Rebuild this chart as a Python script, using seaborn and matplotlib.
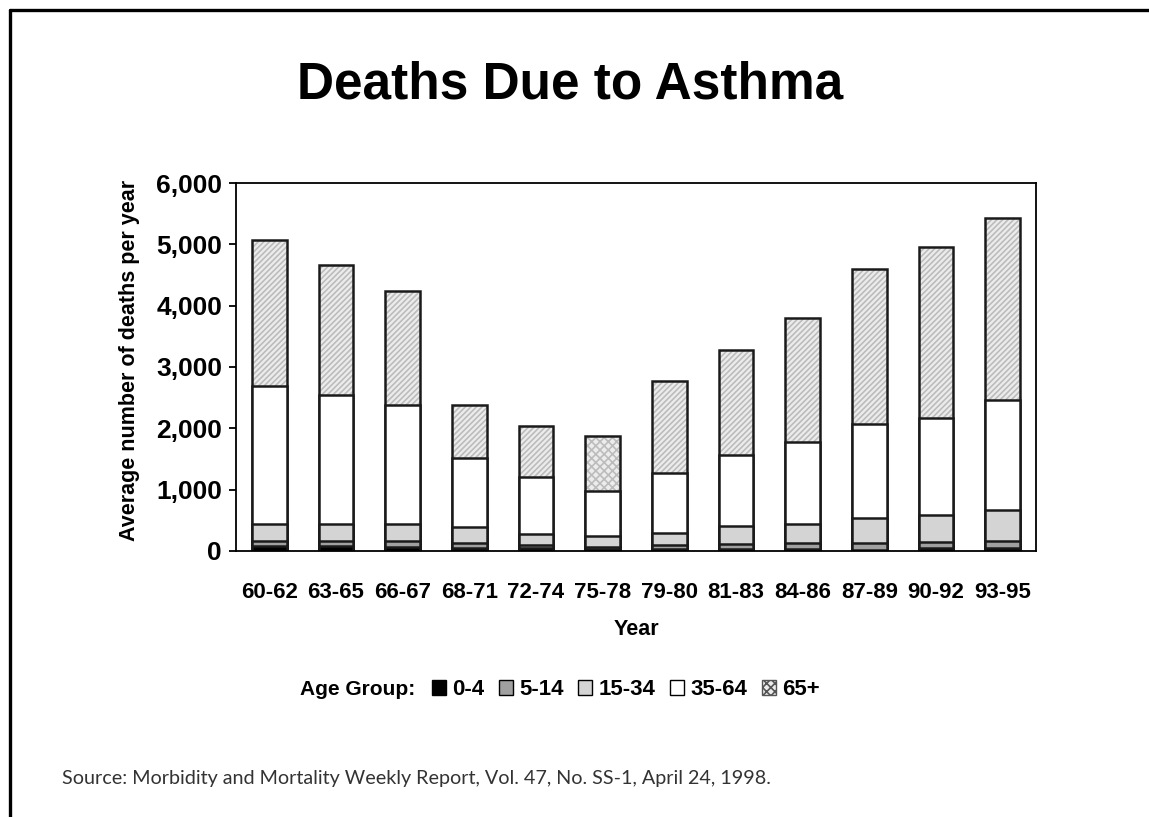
import matplotlib
matplotlib.use("Agg")
import matplotlib.pyplot as plt
from matplotlib.patches import Patch
from matplotlib.lines import Line2D
from matplotlib.ticker import FuncFormatter
import numpy as np
import pandas as pd
import seaborn as sns

# === data ===
YEARS = ["60-62", "63-65", "66-67", "68-71", "72-74", "75-78",
         "79-80", "81-83", "84-86", "87-89", "90-92", "93-95"]
AGE_GROUPS = ["0-4", "5-14", "15-34", "35-64", "65+"]
# deaths per year, by age group
AGE_0_4 = [85, 85, 70, 45, 55, 30, 30, 25, 25, 20, 45, 45]
AGE_5_14 = [80, 80, 95, 80, 35, 30, 70, 85, 100, 110, 105, 125]
AGE_15_34 = [275, 275, 275, 260, 190, 180, 200, 305, 320, 400, 430, 495]
AGE_35_64 = [2250, 2110, 1940, 1125, 930, 735, 975, 1155, 1325, 1540, 1590, 1800]
AGE_65_UP = [2380, 2110, 1860, 870, 830, 905, 1495, 1700, 2030, 2530, 2790, 2965]

COLORS = ["black", "#a0a0a0", "#d4d4d4", "white", "#ececec"]
HATCH_COLOR = "#bcbcbc"

# cumulative heights, each layer is drawn as a full bar from zero
df = pd.DataFrame({"year": YEARS, "0-4": AGE_0_4, "5-14": AGE_5_14,
                   "15-34": AGE_15_34, "35-64": AGE_35_64, "65+": AGE_65_UP})
cum = df[AGE_GROUPS].cumsum(axis=1)
cum["year"] = YEARS

sns.set_style("white")
plt.rcParams["font.family"] = ["Liberation Sans", "DejaVu Sans"]
plt.rcParams["hatch.linewidth"] = 1.2
plt.rcParams["text.color"] = "black"
plt.rcParams["xtick.color"] = "black"
plt.rcParams["ytick.color"] = "black"
plt.rcParams["axes.labelcolor"] = "black"

fig = plt.figure(figsize=(11.49, 8.17), dpi=100)
ax = fig.add_axes([0.2054, 0.3256, 0.6963, 0.4504])

BAR_W = 0.52

# top layer (65+) first: hatched fill with gray hatch lines
sns.barplot(data=cum, x="year", y="65+", order=YEARS, color=COLORS[4],
            width=BAR_W, edgecolor=HATCH_COLOR, linewidth=0, ax=ax,
            saturation=1)
for i, p in enumerate(ax.patches):
    p.set_hatch("xxxx" if YEARS[i] == "75-78" else "//////")
# outline of the full bar
sns.barplot(data=cum, x="year", y="65+", order=YEARS, fill=False,
            width=BAR_W, edgecolor="#1a1a1a", linewidth=1.8, ax=ax)

# remaining layers from top down
for group, col in zip(["35-64", "15-34", "5-14", "0-4"],
                      [COLORS[3], COLORS[2], COLORS[1], COLORS[0]]):
    sns.barplot(data=cum, x="year", y=group, order=YEARS, color=col,
                width=BAR_W, edgecolor="#1a1a1a", linewidth=1.8, ax=ax,
                saturation=1)

ax.set_xlim(-0.5, len(YEARS) - 0.5)
ax.set_ylim(0, 6000)
ax.set_yticks(np.arange(0, 6001, 1000))
ax.yaxis.set_major_formatter(FuncFormatter(lambda v, _: f"{int(v):,}"))
for s in ax.spines.values():
    s.set_visible(True)
    s.set_color("black")
    s.set_linewidth(1.3)
ax.tick_params(axis="y", which="major", left=True, length=5, width=1.3,
               direction="out", pad=5, labelsize=19)
ax.tick_params(axis="x", bottom=False, pad=19, labelsize=16)
for lab in ax.get_xticklabels() + ax.get_yticklabels():
    lab.set_fontweight("bold")
ax.set_xlabel("")
ax.set_ylabel("Average number of deaths per year", fontsize=15.5,
              fontweight="bold")
ax.yaxis.set_label_coords(-0.12, 0.519)

fig.text(0.496, 0.896, "Deaths Due to Asthma", ha="center", va="center",
         fontsize=37, fontweight="bold")
fig.text(0.5535, 0.229, "Year", ha="center", va="center", fontsize=15.5,
         fontweight="bold")

# legend row
fig.text(0.261, 0.1555, "Age Group:", ha="left", va="center", fontsize=15,
         fontweight="bold")
handles = []
for i, g in enumerate(AGE_GROUPS):
    if g == "65+":
        handles.append(Patch(facecolor=COLORS[i], edgecolor="#555555",
                             hatch="xxxx", linewidth=1))
    else:
        handles.append(Patch(facecolor=COLORS[i], edgecolor="black",
                             linewidth=1))
fig.legend(handles, AGE_GROUPS, loc="center left",
           bbox_to_anchor=(0.376, 0.1555), ncol=5, frameon=False,
           handlelength=0.62, handleheight=0.62, handletextpad=0.3,
           columnspacing=0.65, borderaxespad=0, borderpad=0,
           prop={"size": 16, "weight": "bold"})

fig.text(0.054, 0.0477,
         "Source: Morbidity and Mortality Weekly Report, Vol. 47, No. SS-1, April 24, 1998.",
         ha="left", va="center", fontsize=14.2, color="#333333",
         family=["Lato", "DejaVu Sans"])

# slide frame: left and top edges
fig.add_artist(Line2D([0.0087, 0.0087], [0.0, 0.9878], color="black",
                      lw=2.4, transform=fig.transFigure))
fig.add_artist(Line2D([0.0087, 1.0], [0.9878, 0.9878], color="black",
                      lw=2.4, transform=fig.transFigure))

fig.savefig("out.png", dpi=100, facecolor="white")
